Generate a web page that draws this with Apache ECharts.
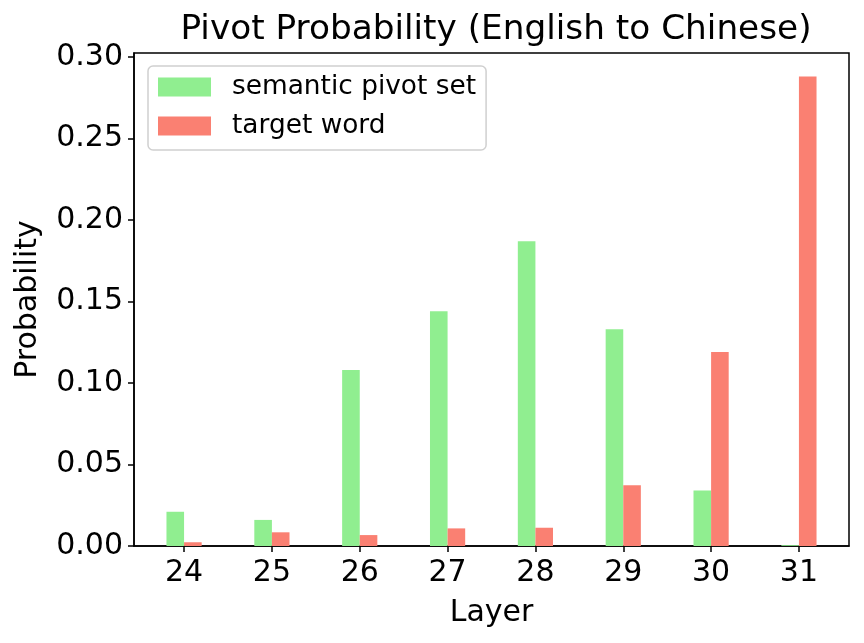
<!DOCTYPE html>
<html>
<head>
<meta charset="utf-8">
<script src="https://cdn.jsdelivr.net/npm/echarts@6/dist/echarts.min.js"></script>
<style>
  html, body { margin: 0; padding: 0; background: #fff; }
  #chart { width: 864px; height: 643px; }
</style>
</head>
<body>
<div id="chart"></div>
<script>
// values
const layers = [24, 25, 26, 27, 28, 29, 30, 31];
const semanticPivot = [0.021, 0.016, 0.108, 0.144, 0.187, 0.133, 0.034, 0.0005];
const targetWord = [0.0023, 0.0084, 0.0067, 0.0108, 0.0112, 0.0373, 0.119, 0.288];
const yTicks = [0, 0.05, 0.10, 0.15, 0.20, 0.25, 0.30];

const font = 'DejaVu Sans';
const chart = echarts.init(document.getElementById('chart'));

const toPairs = vals => layers.map((l, i) => [l, vals[i]]);

const option = {
  animation: false,
  backgroundColor: '#fff',
  title: {
    text: 'Pivot Probability (English to Chinese)',
    left: 491,
    textAlign: 'center',
    top: 8,
    textStyle: { fontFamily: font, fontSize: 34.3, fontWeight: 'normal', color: '#000' }
  },
  legend: {
    orient: 'vertical',
    left: 148,
    top: 66,
    padding: [8, 10, 11, 10],
    borderColor: '#d0d0d0',
    borderWidth: 1.5,
    borderRadius: 5,
    backgroundColor: '#fff',
    itemWidth: 53,
    itemHeight: 19,
    itemGap: 13,
    icon: 'rect',
    textStyle: { fontFamily: font, fontSize: 26.4, lineHeight: 26, color: '#000', padding: [0, 0, 0, 16] },
    data: ['semantic pivot set', 'target word']
  },
  grid: {
    left: 134, right: 15, top: 53, bottom: 97,
    show: true, borderColor: '#000', borderWidth: 1.5
  },
  xAxis: {
    type: 'value',
    min: 23.43,
    max: 31.57,
    name: 'Layer',
    nameLocation: 'middle',
    nameGap: 52,
    nameTextStyle: { fontFamily: font, fontSize: 30, color: '#000' },
    axisLine: { show: true, lineStyle: { color: '#000', width: 1.5 } },
    axisTick: { show: true, length: 6, lineStyle: { color: '#000', width: 1.5 }, customValues: layers },
    axisLabel: { fontFamily: font, fontSize: 30, color: '#000', margin: 12, customValues: layers },
    splitLine: { show: false }
  },
  yAxis: {
    type: 'value',
    min: 0,
    max: 0.3024,
    name: 'Probability',
    nameLocation: 'middle',
    nameGap: 91,
    nameTextStyle: { fontFamily: font, fontSize: 30, color: '#000' },
    axisLine: { show: true, lineStyle: { color: '#000', width: 1.5 } },
    axisTick: { show: true, length: 6, lineStyle: { color: '#000', width: 1.5 }, customValues: yTicks },
    axisLabel: {
      fontFamily: font, fontSize: 30, color: '#000', margin: 11,
      customValues: yTicks,
      formatter: v => v.toFixed(2)
    },
    splitLine: { show: false }
  },
  series: [
    {
      name: 'semantic pivot set',
      type: 'bar',
      barWidth: 17.6,
      barGap: '0%',
      itemStyle: { color: '#90EE90' },
      data: toPairs(semanticPivot)
    },
    {
      name: 'target word',
      type: 'bar',
      barWidth: 17.6,
      barGap: '0%',
      itemStyle: { color: '#FA8072' },
      data: toPairs(targetWord)
    }
  ]
};

chart.setOption(option);
</script>
</body>
</html>
